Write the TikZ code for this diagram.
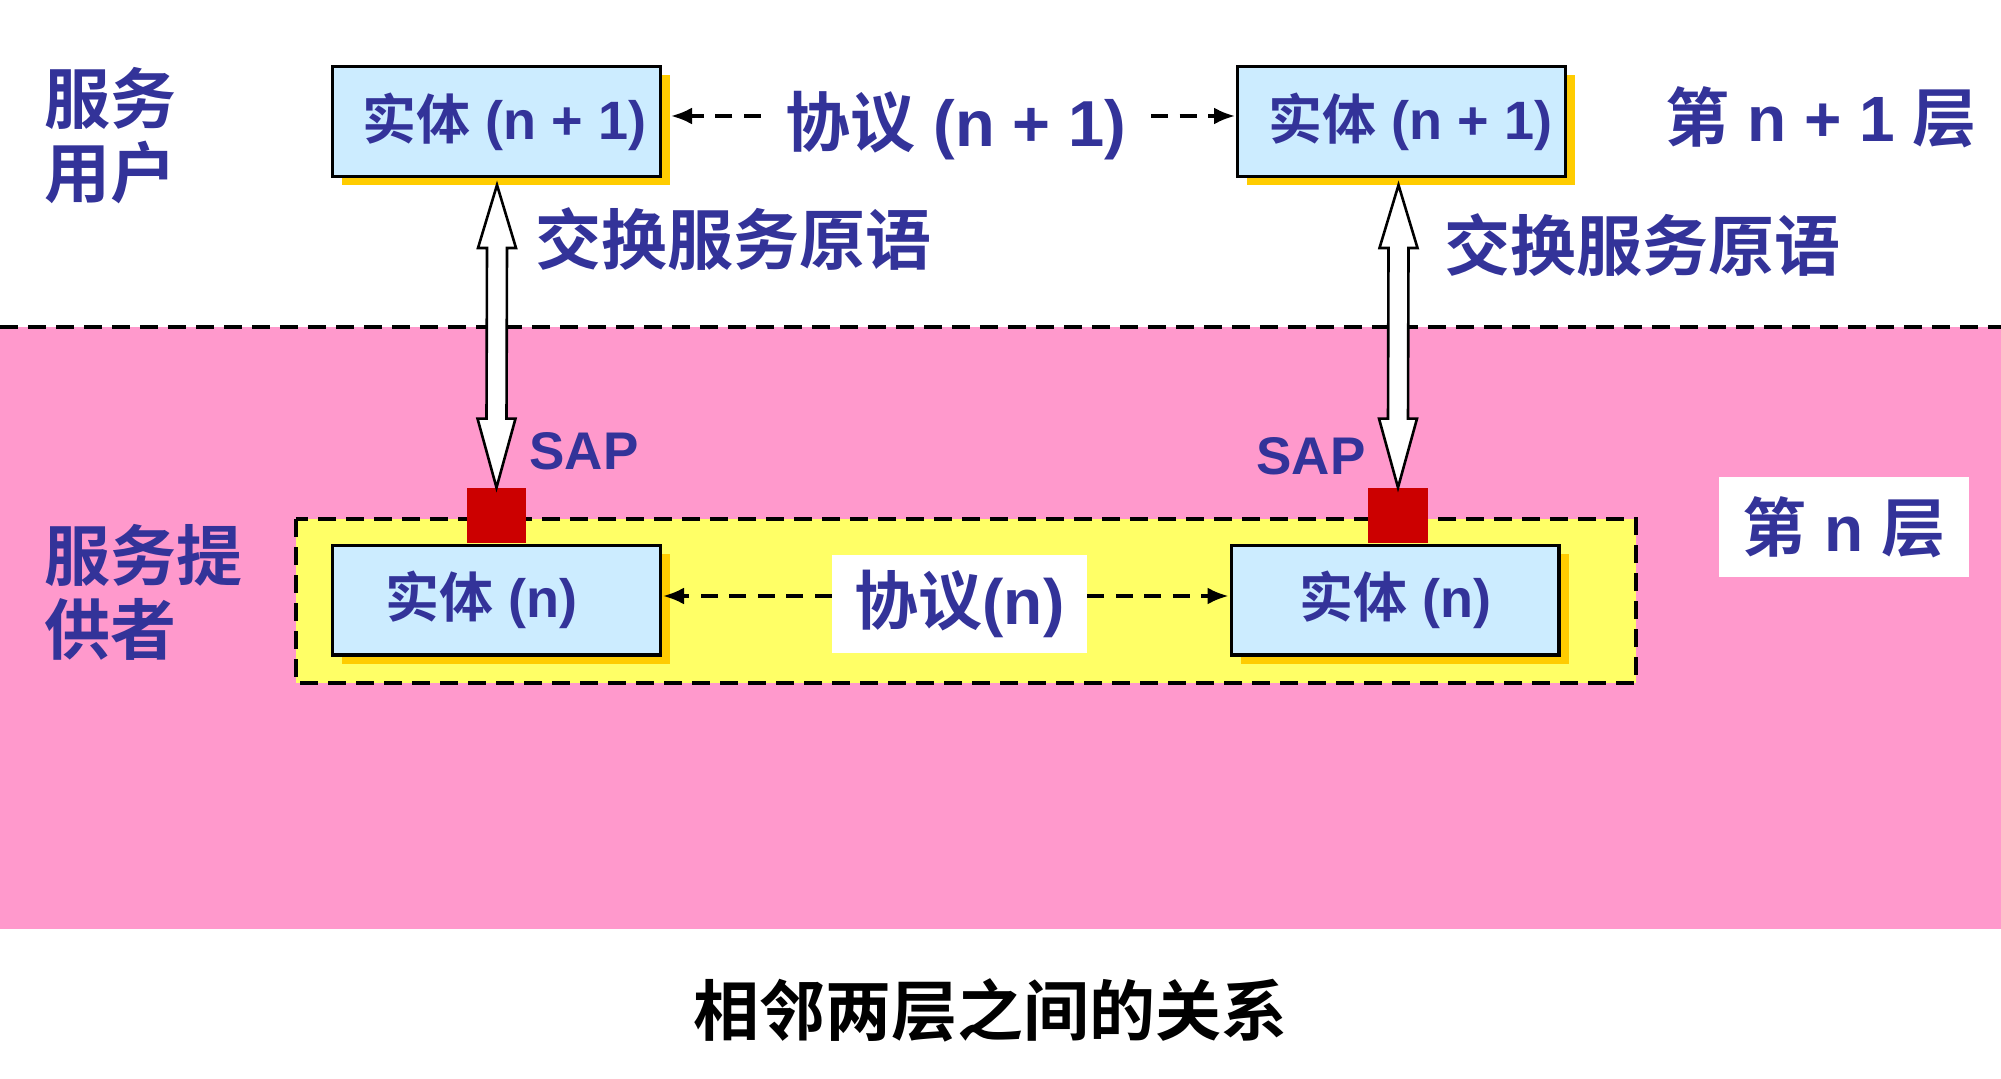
\documentclass[tikz,border=0pt]{standalone}
\usepackage{fontspec}
\setmainfont{Liberation Sans}
\newfontfamily\cjk{Noto Sans CJK SC}[BoldFont={Noto Sans CJK SC Bold}]
\usetikzlibrary{arrows.meta,shadows,calc}
\definecolor{txt}{HTML}{333399}
\definecolor{pinkbg}{HTML}{FF99CC}
\definecolor{ylw}{HTML}{FFFF66}
\definecolor{lblue}{HTML}{CCECFF}
\definecolor{shad}{HTML}{FFCC00}
\definecolor{sapred}{HTML}{CC0000}
\begin{document}
\begin{tikzpicture}[x=0.5pt,y=-0.5pt,
  entity/.style={draw=black, line width=1.6pt, fill=lblue, minimum width=163.9pt,
    minimum height=54.9pt, inner sep=0pt, text=txt,
    font=\bfseries\fontsize{27}{32}\selectfont,
    drop shadow={shadow xshift=4.8pt, shadow yshift=-4.3pt, fill=shad, opacity=1}},
  sapbox/.style={fill=sapred, inner sep=0pt, minimum width=29.5pt, minimum height=27.5pt},
  biglabel/.style={text=txt, inner sep=0pt, font=\bfseries\fontsize{33}{37}\selectfont},
  saplabel/.style={text=txt, inner sep=0pt, font=\bfseries\fontsize{26.5}{30}\selectfont},
  proto/.style={dashed, dash pattern=on 8.5pt off 5.75pt, line width=1.7pt,
    -{Latex[length=10.5pt,width=8.5pt]}},
  sepline/.style={line width=2pt, dash pattern=on 9pt off 5pt},
  dblarrow/.style={draw=black, fill=white, line width=1.3pt, line join=miter}
]
\useasboundingbox (0,0) rectangle (2001,1079);
% backgrounds
\fill[white] (0,0) rectangle (2001,1079);
\fill[pinkbg] (0,327) rectangle (2001,929);
\draw[sepline] (0,327) -- (2001,327);
\draw[sepline, fill=ylw] (296,519) rectangle (1636,683);

% SAP squares
\node[sapbox] (sap1) at (496.5,515.5) {};
\node[sapbox, minimum width=30pt] (sap2) at (1398,515.5) {};

% entities
\node[entity] (u1) at (496.5,121.5) {\kern8pt{\cjk 实体} (n + 1)};
\node[entity] (u2) at (1401.5,121.5) {\kern9pt{\cjk 实体} (n + 1)};
\node[entity] (e1) at (496.5,600) {{\cjk 实体} (n)\kern15pt};
\node[entity] (e2) at (1395,600) {{\cjk 实体} (n)};

% double arrows
\coordinate (t1) at ($(u1.south)+(0.5,7)$);
\coordinate (b1) at (sap1.north);
\draw[dblarrow] (t1) -- ($(t1)+(19,63)$) -- ($(t1)+(10,63)$) -- ($(b1)+(10,-69)$)
  -- ($(b1)+(19,-69)$) -- (b1) -- ($(b1)+(-19,-69)$) -- ($(b1)+(-10,-69)$)
  -- ($(t1)+(-10,63)$) -- ($(t1)+(-19,63)$) -- cycle;
\coordinate (t2) at ($(u2.south)+(-3,7)$);
\coordinate (b2) at (sap2.north);
\draw[dblarrow] (t2) -- ($(t2)+(19,63)$) -- ($(t2)+(10,63)$) -- ($(b2)+(10,-69)$)
  -- ($(b2)+(19,-69)$) -- (b2) -- ($(b2)+(-19,-69)$) -- ($(b2)+(-10,-69)$)
  -- ($(t2)+(-10,63)$) -- ($(t2)+(-19,63)$) -- cycle;

% protocol (n+1)
\node[text=txt, inner ysep=0pt, inner xsep=12pt, font=\bfseries\fontsize{32.5}{37}\selectfont]
  (p1) at (956,126) {{\cjk 协议} (n + 1)};
\draw[proto] ($(p1.west)+(0,-10)$) -- ($(u1.east)+(9,-5.5)$);
\draw[proto] ($(p1.east)+(0,-10)$) -- ($(u2.west)+(-1,-5.5)$);

% protocol (n)
\node[fill=white, text=txt, inner sep=0pt, minimum width=127.5pt, minimum height=49pt,
  font=\bfseries\fontsize{32}{37}\selectfont] (p0) at (959.5,604) {{\cjk 协议}(n)};
\draw[proto] ($(p0.west)+(0,-8)$) -- ($(e1.east)+(1,-4)$);
\draw[proto] ($(p0.east)+(0,-8)$) -- ($(e2.west)+(-1,-4)$);

% labels
\node[biglabel, anchor=west, align=left] (su) at (44,136) {\cjk 服务\\\cjk 用户};
\node[biglabel, anchor=west, align=left] (sp) at (44,592) {\cjk 服务提\\\cjk 供者};
\node[biglabel] (x1) at (733,239) {\cjk 交换服务原语};
\node[biglabel] (x2) at (1642,245) {\cjk 交换服务原语};
\node[saplabel] (s1) at (584,451) {SAP};
\node[saplabel] (s2) at (1311,456) {SAP};
\node[biglabel, font=\bfseries\fontsize{32}{37}\selectfont] (l1) at (1821,117)
  {{\cjk 第} n + 1 {\cjk 层}};
\node[biglabel, font=\bfseries\fontsize{32}{37}\selectfont, fill=white,
  minimum width=125pt, minimum height=50pt] (l0) at (1844,527) {{\cjk 第} n {\cjk 层}};
\node[inner sep=0pt, font=\bfseries\fontsize{33}{38}\selectfont] (cap) at (990,1010)
  {\cjk 相邻两层之间的关系};
\end{tikzpicture}
\end{document}
